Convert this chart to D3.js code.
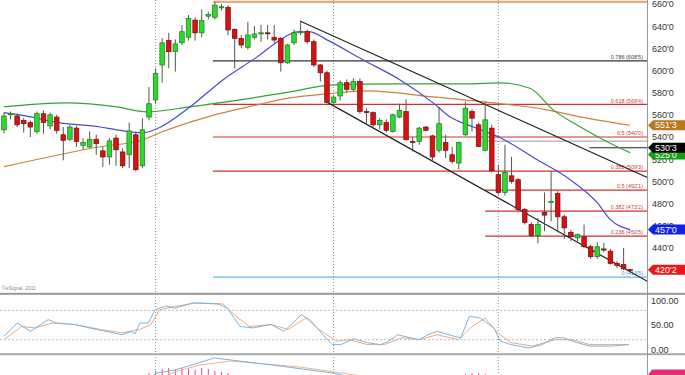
<!DOCTYPE html>
<html><head><meta charset="utf-8">
<script src="https://cdn.jsdelivr.net/npm/d3@7/dist/d3.min.js"></script>
<style>body{margin:0;background:#fff;overflow:hidden}svg{display:block;font-family:"Liberation Sans",Arial,sans-serif}</style>
</head><body><svg id="c" width="685" height="375"></svg>
<script>
// ---- data ----
const opens=[546.5,560,559,555,553,545,561,550,558,542,538,548,532.5,531,538,527.5,522,539,526.5,524,542,514,558,573.5,605,627,617,625,630,645.5,634,649,648,656.5,657,637,629,621,630,633,634,630,629,607,625,634,635,626,605,598,571,577,589,583,590,563,562,551,553,545,558,563,536,536,549,541,528,535,524,516.5,542,563,551,528,548,506,490,505,501.5,474.5,461,451,472,481,489,468,454,449,450,441,432,439,437,426,425,420.4];
const highs=[562,563,561,557,555,563,564,562,560,549,551,550,539,545,542,531,539,542,530,553,545,557,585,602,629,634,628,641,650,648,655,653,662,660,659,638,632,644,640,641,641,641,630,624,637,645,637,628,606,600,578,591,592,593,593,566,563,557,556,561,570,574,540,549,550,542,567,542,531,536,572,565,553,572,551,515,533,522,503,476,463,467,490,509,491,470,456,453,461,443,445,444.5,439,428,440,421];
const lows=[543,556,549,544,540,543,543,547,543,519,536,531,528.5,530,524,513,515,514,512,512,509,512,555,570,589,602,599,623,627,627,630,646,646,654,632,602,620,619,628,626,628,625,599,606,623,632,624,603,590,570,570,573,580,581,561,551,549,547,544,544,557,537,527,533,545,519,526,521,516,511,541,545,531,527,508,488,487,498,472,461,450,444,455,464,454,448,446,446,440,430,430,436,425,422,420,419];
const closes=[559,561,551,552,549,561,553,560,546,537,549,536,535,538,534,522,536.5,528.5,514,545.5,510.5,546.5,570,597.5,625,617,624,635,647,634,645,650.5,659,657.5,636.6,629,623,632,633,634,633.5,627.5,607,623,634,635,626,605,598,571,576,589,583,590,563,562,551,555,546,560,564,537.5,535,548,546,522,552,528,518,535,566,557,531.5,555.5,509.5,490,508,500,474.5,463,451,461,469.5,482,468,458,450,452,441,432,441,438,426,424,421,420.2];

// moving averages: [bar index, price]
const blueMA=[[0,562],[2.4,560],[8.5,552.8],[14.6,549],[17.1,546.5],[21.1,543.8],[23.2,547.4],[28.2,567],[33.2,591.5],[38.4,612.3],[41.9,627.6],[44.5,634.8],[46.4,634.8],[49,627.6],[54.5,609.5],[60.1,591.5],[65.1,570.8],[67.7,558],[71.2,549],[75.3,539.3],[80.9,519.5],[85.9,501.5],[90,480.7],[92,465.4],[95,456.5]];
const greenMA=[[0,567.2],[9.6,570.8],[17.1,567.2],[21.7,562.7],[28.2,567.2],[35.8,573.5],[43.4,580.7],[49.9,587],[60.1,588],[70.3,588],[75.3,588.8],[79.8,584],[83.3,564.5],[87.4,549.2],[90.9,537.5],[95,525.8]];
const brownMA=[[0,513.2],[14.6,531.2],[21.1,537.5],[23.7,544],[30.8,558],[38.4,569],[43.4,575.3],[49,579],[55.1,581.6],[65.1,576.2],[72.7,571.7],[82.4,564.5],[87.4,558.2],[95,550.6]];

// trend channel: [index, price] pairs
const channelUpper=[[44.9,644.7],[97.7,503.2]];
const channelLower=[[49.2,570.8],[97.7,409.5]];

// fibonacci / horizontal levels
const levelPrices=[662,608.6,569.5,540,509.3,492.1,473.2,450.6,413.6];
const levelStarts=[31.7,31.7,31.7,31.7,31.7,73,73,73,31.7];
const levelLabels=["","0.786 (608'5)","0.618 (569'4)","0.5 (540'0)","0.382 (509'3)","0.5 (492'1)","0.382 (473'2)","0.236 (450'5)","0 (413'5)"];
const levelKinds=["top","black","red","red","red","red","red","red","blue"];

const priceTicks=[440,460,480,500,520,540,560,580,600,620,640,660];
const monthBreaks=[23,50,75];

// right price tags
const tagPrices=[550.6,524.2,530.3,456.5,420.2];
const tagTexts=["551'3","525'0","530'3","457'0","420'2"];
const tagColors=["#b8781e","#12a012","#000000","#1020e8","#e81818"];

// stochastic: [index, value]
const stochK=[[0,27],[2,54],[4,37],[6.7,61],[8,54],[10.7,51],[14,41],[16.6,34],[17.9,30],[19.3,37],[19.9,32],[20.6,54],[21.9,54],[22.9,81],[24.6,89],[25.9,84],[28.6,95],[32.5,93],[33.9,84],[35.8,47],[37.8,44],[40.5,51],[42.5,37],[45.1,71],[46.4,61],[48.4,30],[49.8,10],[51.1,10],[53.1,22],[55.1,14],[57.1,10],[58.4,17],[59.7,30],[61.7,24],[63,20],[64.3,30],[65.7,37],[68.3,27],[69.3,24],[70.6,68],[72.3,64],[74.3,44],[75.3,17],[76.9,10],[79.6,3],[81.6,10],[83.6,24],[84.9,24],[86.9,14],[88.9,7],[92.2,7],[94.8,10]];
const stochD=[[0,20],[2.7,47],[4.7,44],[7.3,54],[10.7,51],[14.6,41],[17.9,34],[20.6,41],[22.3,51],[23.6,81],[25.9,88],[29.2,95],[33.2,93],[35.2,68],[37.2,47],[40.5,51],[43.1,41],[45.8,64],[47.8,41],[50.4,17],[52.4,20],[55.1,10],[57.7,10],[60.4,24],[63,20],[65.7,30],[69,20],[71,47],[73,64],[74.9,34],[76.9,14],[80.2,7],[83.6,20],[86.2,20],[88.9,10],[94.8,10]];
const stochTicks=[100,50,0];
const stochTickLabels=["100.00","50.00","0.00"];

// MACD (top part visible)
const macdLine=[[21.5,-3],[23.2,4],[25.9,7],[29,13],[31.9,19],[34.4,17],[41.9,11],[49.8,4],[54,-2]];
const signalLine=[[23,-3],[25.9,5],[29.7,12],[34.4,16],[44.9,10],[54.3,1],[56,-3]];
const histIdx=[4,5,6,22,23,24,25,26,27,28,29,30,31,32,33,34,70,71,72,73];
const histVal=[2,2,2,4,6,8,9,8,9,8,7,9,8,6,5,4,3,4,4,3];

// ---- drawing ----
const svg=d3.select("#c");
const W=647, mainBottom=293;
const x=d3.scaleLinear().domain([-0.6,97.7]).range([0,648]);
const y=d3.scaleLinear().domain([420,660]).range([270,4]);
const ys=d3.scaleLinear().domain([0,100]).range([349.5,300.5]);
const ym=d3.scaleLinear().domain([0,20]).range([377,357]);

const defs=svg.append("defs");
defs.append("clipPath").attr("id","cm").append("rect").attr("x",0).attr("y",0).attr("width",W).attr("height",mainBottom);
defs.append("clipPath").attr("id","cs").append("rect").attr("x",0).attr("y",295).attr("width",W).attr("height",58);
defs.append("clipPath").attr("id","cd").append("rect").attr("x",0).attr("y",355.5).attr("width",W).attr("height",20);

// vertical dotted month separators
svg.append("g").selectAll("line").data(monthBreaks).join("line")
  .attr("x1",d=>x(d)).attr("x2",d=>x(d)).attr("y1",0).attr("y2",375)
  .attr("stroke","#777").attr("stroke-width",0.8).attr("stroke-dasharray","1,2");

const main=svg.append("g").attr("clip-path","url(#cm)");

// horizontal levels
const levelColor={top:"#e8aa7c",black:"#333",red:"#d23030",blue:"#6cb4e4"};
const levelText={top:"#c87",black:"#444",red:"#d04040",blue:"#3c94d0"};
levelPrices.forEach((p,i)=>{
  main.append("line").attr("x1",x(levelStarts[i])).attr("x2",W).attr("y1",y(p)).attr("y2",y(p))
    .attr("stroke",levelColor[levelKinds[i]]).attr("stroke-width",levelKinds[i]==="top"?2.2:1.2);
  if(levelLabels[i]) main.append("text").attr("x",643).attr("y",y(p)-1.6).attr("text-anchor","end")
    .attr("font-size",5.5).attr("fill",levelText[levelKinds[i]]).text(levelLabels[i]);
});
// extra grey level and short black line near the right
main.append("line").attr("x1",x(73)).attr("x2",W).attr("y1",y(536.3)).attr("y2",y(536.3)).attr("stroke","#999").attr("stroke-width",1);
main.append("line").attr("x1",x(88.8)).attr("x2",W).attr("y1",y(530.3)).attr("y2",y(530.3)).attr("stroke","#222").attr("stroke-width",1.2);

// moving averages
const maLine=d3.line().x(d=>x(d[0])).y(d=>y(d[1])).curve(d3.curveMonotoneX);
main.append("path").attr("d",maLine(brownMA)).attr("fill","none").attr("stroke","#c8843e").attr("stroke-width",1.2);
main.append("path").attr("d",maLine(greenMA)).attr("fill","none").attr("stroke","#3a9e3a").attr("stroke-width",1.2);
main.append("path").attr("d",maLine(blueMA)).attr("fill","none").attr("stroke","#4a4ad2").attr("stroke-width",1.2);

// channel
const straight=d3.line().x(d=>x(d[0])).y(d=>y(d[1]));
[channelUpper,channelLower].forEach(c=>main.append("path").attr("d",straight(c)).attr("fill","none").attr("stroke","#222").attr("stroke-width",1.2));

// candles
const bw=4.6;
const idx=d3.range(opens.length);
main.append("g").selectAll("line").data(idx).join("line")
  .attr("x1",i=>x(i)).attr("x2",i=>x(i)).attr("y1",i=>y(highs[i])).attr("y2",i=>y(lows[i]))
  .attr("stroke","#555").attr("stroke-width",1);
main.append("g").selectAll("rect").data(idx).join("rect")
  .attr("x",i=>x(i)-bw/2).attr("width",bw)
  .attr("y",i=>y(Math.max(opens[i],closes[i])))
  .attr("height",i=>Math.max(1,Math.abs(y(opens[i])-y(closes[i]))))
  .attr("fill",i=>closes[i]>=opens[i]?"#2ed82e":"#d41414")
  .attr("stroke",i=>closes[i]>=opens[i]?"#1b7a1b":"#7a0a0a").attr("stroke-width",0.7);

// copyright
svg.append("text").attr("x",2).attr("y",290).attr("font-size",5).attr("fill","#888").text("©eSignal, 2011");

// right price axis
const ax=svg.append("g").attr("transform","translate(648,0)")
  .call(d3.axisRight(y).tickValues(priceTicks).tickSize(0).tickPadding(4).tickFormat(d=>d+"'0"));
ax.select(".domain").remove();
ax.selectAll("text").attr("font-size",9).attr("fill","#333").attr("font-family","Liberation Sans,Arial,sans-serif");

// tags
const th=5;
tagPrices.forEach((p,i)=>{
  const c=y(p);
  svg.append("path").attr("d",`M648,${c}L653,${c-th}L685,${c-th}L685,${c+th}L653,${c+th}Z`).attr("fill",tagColors[i]);
  svg.append("text").attr("x",655).attr("y",c+3.1).attr("font-size",9).attr("fill","#fff").text(tagTexts[i]);
});

// stochastic
const st=svg.append("g");
st.selectAll("line.g").data([80,20]).join("line").attr("x1",0).attr("x2",W).attr("y1",d=>ys(d)).attr("y2",d=>ys(d))
  .attr("stroke","#aaa").attr("stroke-width",0.8).attr("stroke-dasharray","2,2");
const sl=d3.line().x(d=>x(d[0])).y(d=>ys(d[1]));
const sg=st.append("g").attr("clip-path","url(#cs)");
sg.append("path").attr("d",sl(stochD)).attr("fill","none").attr("stroke","#f0a878").attr("stroke-width",1);
sg.append("path").attr("d",sl(stochK)).attr("fill","none").attr("stroke","#74b6e6").attr("stroke-width",1);
stochTicks.forEach((v,i)=>svg.append("text").attr("x",651).attr("y",ys(v)+3.2).attr("font-size",9).attr("fill","#333").text(stochTickLabels[i]));

// MACD
const md=svg.append("g").attr("clip-path","url(#cd)");
md.selectAll("line").data(histIdx).join("line").attr("x1",(d)=>x(d)).attr("x2",d=>x(d))
  .attr("y1",ym(0)).attr("y2",(d,i)=>ym(histVal[i])).attr("stroke","#e04a86").attr("stroke-width",1);
const ml=d3.line().x(d=>x(d[0])).y(d=>ym(d[1]));
md.append("path").attr("d",ml(signalLine)).attr("fill","none").attr("stroke","#f0b488").attr("stroke-width",1);
md.append("path").attr("d",ml(macdLine)).attr("fill","none").attr("stroke","#7ab2e2").attr("stroke-width",1);
svg.append("path").attr("d","M648,375L652,369.5L685,369.5L685,381L652,381Z").attr("fill","#e0307a");

// separators and border
svg.append("rect").attr("x",0).attr("y",292.8).attr("width",685).attr("height",2).attr("fill","#999");
svg.append("rect").attr("x",0).attr("y",353.2).attr("width",685).attr("height",2).attr("fill","#aaa");
svg.append("line").attr("x1",647.5).attr("x2",647.5).attr("y1",0).attr("y2",375).attr("stroke","#999").attr("stroke-width",1);
</script></body></html>
